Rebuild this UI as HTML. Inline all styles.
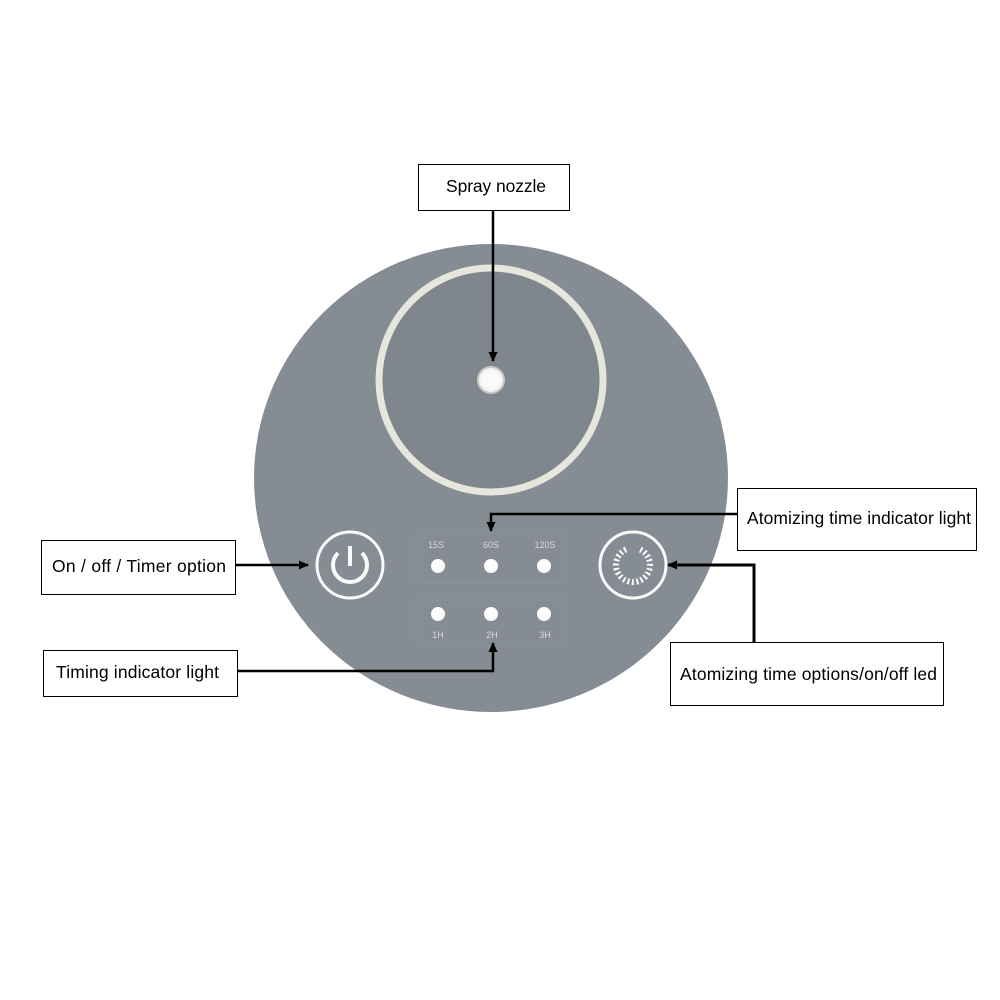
<!DOCTYPE html>
<html><head><style>
html,body{margin:0;padding:0;background:#fff;}
svg{display:block}
text{font-family:"Liberation Sans",Arial,sans-serif;}
</style></head><body>
<svg width="1000" height="1000" viewBox="0 0 1000 1000" xmlns="http://www.w3.org/2000/svg">
<defs>
<marker id="ah" markerWidth="10" markerHeight="10" refX="9" refY="5" orient="auto" markerUnits="userSpaceOnUse">
<path d="M0,0.5 L10,5 L0,9.5 z" fill="#000"/></marker>
</defs>
<ellipse cx="491" cy="478" rx="237" ry="234" fill="#868c93"/>
<circle cx="491" cy="380" r="112" fill="#80868d" stroke="#e6e6dc" stroke-width="7"/>
<circle cx="491" cy="380" r="13" fill="#f4f4f0" stroke="#c8c8c4" stroke-width="2"/>
<circle cx="491" cy="380" r="9" fill="#fafafa"/>
<circle cx="350" cy="565" r="33" fill="none" stroke="#fafafa" stroke-width="3"/>
<path d="M338,553 A17,17 0 1 0 362,553" fill="none" stroke="#fafafa" stroke-width="4"/>
<line x1="350" y1="546" x2="350" y2="566" stroke="#fafafa" stroke-width="4"/>
<circle cx="633" cy="565" r="33" fill="none" stroke="#fafafa" stroke-width="3"/>
<circle cx="633" cy="565" r="17" fill="none" stroke="#fafafa" stroke-width="6" stroke-dasharray="2 2.5" transform="rotate(-80 633 565)"/>
<circle cx="633" cy="565" r="17.5" fill="none" stroke="#868c93" stroke-width="8" stroke-dasharray="12 200" transform="rotate(-110 633 565)"/>
<rect x="416" y="532" width="150" height="51" fill="none" stroke="#7f9bbd" stroke-width="1" stroke-dasharray="2 2"/>
<rect x="416" y="600" width="150" height="46" fill="none" stroke="#7f9bbd" stroke-width="1" stroke-dasharray="2 2"/>
<g fill="#d8dade" font-size="9" text-anchor="middle">
<text x="436" y="548">15S</text><text x="491" y="548">60S</text><text x="545" y="548">120S</text>
<text x="438" y="638">1H</text><text x="492" y="638">2H</text><text x="545" y="638">3H</text>
</g>
<g fill="#fdfdfd">
<circle cx="438" cy="566" r="7"/><circle cx="491" cy="566" r="7"/><circle cx="544" cy="566" r="7"/>
<circle cx="438" cy="614" r="7"/><circle cx="491" cy="614" r="7"/><circle cx="544" cy="614" r="7"/>
</g>
<g fill="#fff" stroke="#000" stroke-width="1">
<rect x="418.5" y="164.5" width="151" height="46"/>
<rect x="737.5" y="488.5" width="239" height="62"/>
<rect x="41.5" y="540.5" width="194" height="54"/>
<rect x="43.5" y="650.5" width="194" height="46"/>
<rect x="670.5" y="642.5" width="273" height="63"/>
</g>
<g font-size="17.5" fill="#000">
<text x="446" y="192" textLength="100">Spray nozzle</text>
<text x="747" y="524" textLength="224">Atomizing time indicator light</text>
<text x="52" y="572" textLength="174">On / off / Timer option</text>
<text x="56" y="678" textLength="163">Timing indicator light</text>
<text x="680" y="680" textLength="257">Atomizing time options/on/off led</text>
</g>
<g stroke="#000" stroke-width="2.5" fill="none">
<line x1="493" y1="211" x2="493" y2="361" marker-end="url(#ah)"/>
<polyline points="737,514 491,514 491,531" marker-end="url(#ah)"/>
<line x1="236" y1="565" x2="308" y2="565" marker-end="url(#ah)"/>
<polyline points="238,671 493,671 493,643" marker-end="url(#ah)"/>
<polyline points="754,642 754,565 668,565" stroke-width="3" marker-end="url(#ah)"/>
</g>
</svg>
</body></html>
